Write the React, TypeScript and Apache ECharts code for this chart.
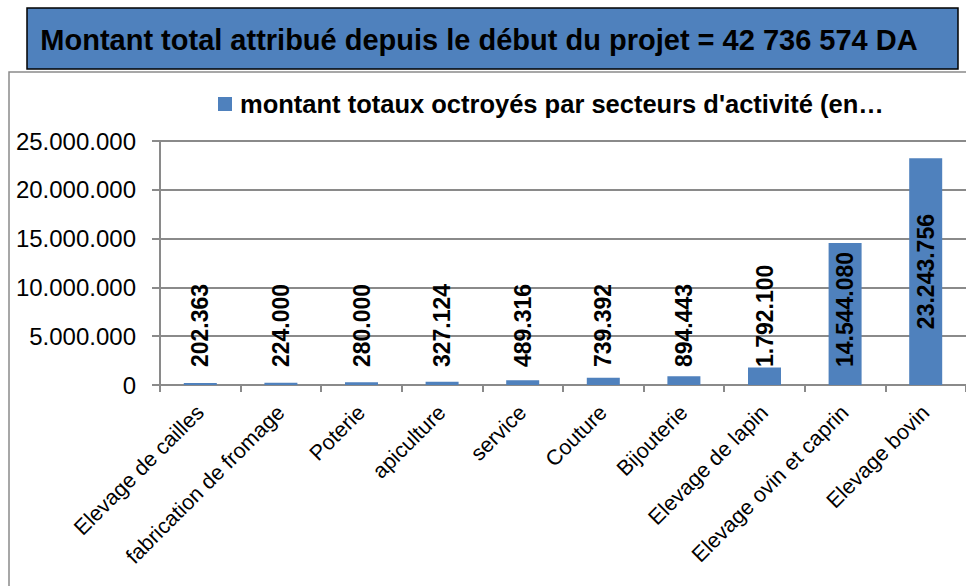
import React, { useEffect, useRef } from "react";
import * as echarts from "echarts";

const categories = [
  "Elevage de cailles",
  "fabrication de fromage",
  "Poterie",
  "apiculture",
  "service",
  "Couture",
  "Bijouterie",
  "Elevage de lapin",
  "Elevage ovin et caprin",
  "Elevage bovin",
];
const values = [202363, 224000, 280000, 327124, 489316, 739392, 894443, 1792100, 14544080, 23243756];
const seriesName = "montant totaux octroyés par secteurs d'activité (en…";
const titleText = "Montant total attribué depuis le début du projet = 42 736 574 DA";
const yTicks = [0, 5000000, 10000000, 15000000, 20000000, 25000000];

const FONT = "'Liberation Sans', Arial, sans-serif";
const BLUE = "#4F81BD";
const GRAY = "#8a8a8a";

const fmt = (n: number) => String(n).replace(/\B(?=(\d{3})+(?!\d))/g, ".");

export default function App() {
  const ref = useRef<HTMLDivElement>(null);
  useEffect(() => {
    if (!ref.current) return;
    const chart = echarts.init(ref.current, undefined, { renderer: "svg" });
    const data = values.map((v, i) => {
      const last = i === values.length - 1;
      return {
        value: v,
        label: last
          ? { position: "inside", align: "center", verticalAlign: "middle", distance: 0 }
          : { position: "insideBottom", align: "left", verticalAlign: "middle", distance: 18 },
      };
    });
    chart.setOption({
      animation: false,
      backgroundColor: "#ffffff",
      textStyle: { fontFamily: FONT },
      graphic: [
        {
          type: "rect",
          z: -1,
          shape: { x: 9, y: 72, width: 1000, height: 600 },
          style: { fill: "none", stroke: GRAY, lineWidth: 1.5 },
          silent: true,
        },
        {
          type: "rect",
          z: -1,
          shape: { x: 27, y: 8, width: 931, height: 61 },
          style: { fill: BLUE, stroke: "#000000", lineWidth: 1.5 },
          silent: true,
        },
      ],
      title: {
        text: titleText,
        left: 479,
        top: 25,
        padding: 0,
        textAlign: "center",
        textStyle: { fontFamily: FONT, fontSize: 29, fontWeight: "bold", color: "#000000" },
      },
      legend: {
        left: 218,
        top: 91,
        padding: 0,
        icon: "rect",
        itemWidth: 14,
        itemHeight: 14,
        textStyle: { fontFamily: FONT, fontSize: 25.5, fontWeight: "bold", color: "#000000", padding: [0, 0, 0, 3] },
        data: [seriesName],
      },
      grid: { left: 160, top: 141, width: 811, height: 244, containLabel: false },
      xAxis: {
        type: "category",
        data: categories,
        axisLine: { lineStyle: { color: GRAY, width: 2 } },
        axisTick: { show: true, length: 7, lineStyle: { color: GRAY, width: 2 } },
        axisLabel: {
          interval: 0,
          rotate: 45,
          margin: 24,
          fontFamily: FONT,
          fontSize: 21.5,
          color: "#000000",
        },
      },
      yAxis: {
        type: "value",
        min: 0,
        max: 25000000,
        interval: 5000000,
        axisLine: { show: true, lineStyle: { color: GRAY, width: 2 } },
        axisTick: { show: true, length: 8, lineStyle: { color: GRAY, width: 2 } },
        splitLine: { show: true, lineStyle: { color: GRAY, width: 2 } },
        axisLabel: {
          margin: 24,
          fontFamily: FONT,
          fontSize: 24,
          color: "#000000",
          formatter: (v: number) => (yTicks.includes(v) ? fmt(v) : ""),
        },
      },
      series: [
        {
          name: seriesName,
          type: "bar",
          barWidth: 33,
          itemStyle: { color: BLUE },
          data,
          label: {
            show: true,
            rotate: 90,
            fontFamily: FONT,
            fontSize: 23,
            fontWeight: "bold",
            color: "#000000",
            formatter: (p: any) => fmt(p.value),
          },
        },
      ],
    });
    return () => chart.dispose();
  }, []);
  return (
    <div
      ref={ref}
      style={{ position: "fixed", left: 0, top: 0, width: 966, height: 586, background: "#fff" }}
    />
  );
}
